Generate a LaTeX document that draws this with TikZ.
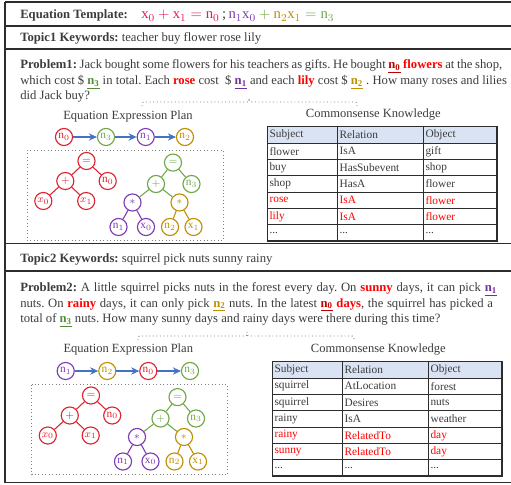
\documentclass[tikz,border=0pt]{standalone}
\usepackage{fontspec}
\setmainfont{Liberation Serif}
\usetikzlibrary{arrows.meta}
\frenchspacing
\definecolor{txt}{RGB}{60,60,60}
\definecolor{frame}{RGB}{45,45,45}
\definecolor{cred}{RGB}{222,35,50}
\definecolor{cgreen}{RGB}{112,168,72}
\definecolor{cpurple}{RGB}{125,60,180}
\definecolor{cgold}{RGB}{191,144,0}
\definecolor{cblue}{RGB}{68,114,196}
\definecolor{dred}{RGB}{192,0,0}
\definecolor{bred}{RGB}{255,0,0}
\definecolor{dgreen}{RGB}{84,140,53}
\definecolor{dpurple}{RGB}{112,48,160}
\definecolor{eqred}{RGB}{232,25,80}
\definecolor{hdr}{RGB}{218,227,243}
\newcommand\unum[2]{\textcolor{#1}{\underline{\textbf{n\textsubscript{#2}}}}}
\newcommand\kw[1]{\textcolor{bred}{\textbf{#1}}}
\newcommand\mn[1]{$\mathrm{n}_{#1}$}
\newcommand\mxu[1]{$\mathrm{x}_{#1}$}
\newcommand\mxi[1]{$x_{#1}$}
\newcommand\bodyfont{\fontsize{9.5pt}{11.6pt}\selectfont}
\newcommand\cellfont{\fontsize{8.5pt}{9pt}\selectfont}
\newcommand\nodefont{\fontsize{8.5pt}{9pt}\selectfont}
\newcommand\fitline[2]{\makebox[#1][s]{#2}}
\tikzset{
  frameline/.style={draw=frame, line width=1pt},
  textline/.style={anchor=base west, inner sep=0pt, text=txt, font=\bodyfont},
  titletext/.style={inner sep=0pt, text=txt, font=\fontsize{9.4pt}{11pt}\selectfont},
  cn/.style={circle, draw=#1, text=#1, fill=white, minimum size=12.8pt, inner sep=0pt, line width=0.85pt, font=\nodefont},
  tl/.style={draw=#1, line width=0.8pt},
  chainarrow/.style={draw=cblue, line width=1.3pt, -{Stealth[length=6pt,width=5.5pt]}},
  dotbox/.style={draw=gray, dotted, line width=0.6pt},
  bracepath/.style={draw=gray, dotted, line width=0.7pt},
  celltext/.style={anchor=west, inner sep=0pt, font=\cellfont},
  gridline/.style={draw=frame, line width=0.6pt},
}
% tree in panel-1 coordinates, prefix #1
\newcommand\plantree[1]{%
  \draw[dotbox] (27,150) rectangle (223,240.3);
  \node[cn=cred] (#1r) at (86.5,161) {$=$};
  \node[cn=cred] (#1rp) at (65.3,181) {$+$};
  \node[cn=cred] (#1rn) at (107.7,181) {\mn0};
  \node[cn=cred] (#1rxa) at (43.3,201) {\mxi0};
  \node[cn=cred] (#1rxb) at (86.2,201) {\mxi1};
  \draw[tl=cred] (#1r) -- (#1rp);
  \draw[tl=cred] (#1r) -- (#1rn);
  \draw[tl=cred] (#1rp) -- (#1rxa);
  \draw[tl=cred] (#1rp) -- (#1rxb);
  \node[cn=cgreen] (#1g) at (173,162.6) {$=$};
  \node[cn=cgreen] (#1gp) at (156,184) {$+$};
  \node[cn=cgreen] (#1gn) at (191.5,184) {\mn3};
  \node[cn=cpurple] (#1ps) at (132.5,202.5) {$\ast$};
  \node[cn=cgold] (#1os) at (179.5,202.5) {$\ast$};
  \node[cn=cpurple] (#1pn) at (118.5,227) {\mn1};
  \node[cn=cpurple] (#1px) at (146,227) {\mxu0};
  \node[cn=cgold] (#1on) at (170,227) {\mn2};
  \node[cn=cgold] (#1ox) at (193.5,227) {\mxu1};
  \draw[tl=cgreen] (#1g) -- (#1gp);
  \draw[tl=cgreen] (#1g) -- (#1gn);
  \draw[tl=cgreen] (#1gp) -- (#1ps);
  \draw[tl=cgreen] (#1gp) -- (#1os);
  \draw[tl=cpurple] (#1ps) -- (#1pn);
  \draw[tl=cpurple] (#1ps) -- (#1px);
  \draw[tl=cgold] (#1os) -- (#1on);
  \draw[tl=cgold] (#1os) -- (#1ox);
}
% table in panel-1 coordinates
\newcommand\kbgrid{%
  \fill[hdr] (267.5,126.7) rectangle (497,143.05);
  \foreach \k in {1,...,6} {\draw[gridline] (267.5,126.7+\k*16.35) -- (497,126.7+\k*16.35);}
  \draw[gridline] (337.5,126.7) -- (337.5,241.15);
  \draw[gridline] (423.5,126.7) -- (423.5,241.15);
  \draw[frame, line width=1.1pt] (267.5,126.7) rectangle (497,241.15);
}
\newcommand\kbrow[6]{% prefix, row, subj, rel, obj, color
  \node[celltext, text=#6] (#1s#2) at (269.3,126.7+#2*16.35+8.2) {#3};
  \node[celltext, text=#6] (#1r#2) at (339.3,126.7+#2*16.35+8.2) {#4};
  \node[celltext, text=#6] (#1o#2) at (425.3,126.7+#2*16.35+8.2) {#5};
}
\begin{document}
\begin{tikzpicture}[x=0.75pt,y=-0.75pt]
\useasboundingbox (0,0) rectangle (511,485);
\fill[white] (0,0) rectangle (511,485);
% frame
\draw[frameline] (5,2) -- (511,2);
\draw[frameline] (5,2) -- (5,482.5);
\draw[frameline] (5,26) -- (511,26);
\draw[frameline] (5,49) -- (511,49);
\draw[frameline] (5,243.5) -- (511,243.5);
\draw[frameline] (5,271) -- (511,271);
\draw[frameline] (5,482.5) -- (511,482.5);
% header
\node[textline] (eqlabel) at (20,19) {\textbf{Equation Template:}};
\node[anchor=base west, inner sep=0pt, font=\fontsize{11pt}{12pt}\selectfont] (eqmath) at (141,19)
  {$\color{eqred}\mathrm{x}_0+\mathrm{x}_1=\mathrm{n}_0$\,\textcolor{txt}{;}\,$\color{cpurple}\mathrm{n}_1\mathrm{x}_0\mathbin{\color{cgreen}+}{\color{cgold}\mathrm{n}_2\mathrm{x}_1}\mathrel{\color{cgreen}=}{\color{cgreen}\mathrm{n}_3}$};
\node[textline] (topic1) at (20,42) {\textbf{Topic1 Keywords:} teacher buy flower rose lily};
% problem 1
\node[textline] (p1a) at (20,69) {\fitline{361.5pt}{\textbf{Problem1:} Jack bought some flowers for his teachers as gifts. He bought \unum{dred}{0} \kw{flowers} at the shop,}};
\node[textline] (p1b) at (20,84.5) {\fitline{365pt}{which cost \$ \unum{dgreen}{3} in total. Each \kw{rose} cost \ \$ \unum{dpurple}{1} and each \kw{lily} cost \$ \unum{cgold}{2} . How many roses and lilies}};
\node[textline] (p1c) at (20,100) {did Jack buy?};
\draw[bracepath] (142,106) .. controls (142,102) .. (146,102) -- (245,102) .. controls (249,102) .. (249,98) .. controls (249,102) .. (253,102) -- (353,102) .. controls (357,102) .. (357,106);
% panel 1 plan
\node[titletext] (plan1) at (128,116.5) {Equation Expression Plan};
\node[cn=cred] (ac0) at (64,137) {\mn0};
\node[cn=cgreen] (ac1) at (106,137) {\mn3};
\node[cn=cpurple] (ac2) at (145.7,137) {\mn1};
\node[cn=cgold] (ac3) at (185,137) {\mn2};
\draw[chainarrow] (ac0) -- (ac1);
\draw[chainarrow] (ac1) -- (ac2);
\draw[chainarrow] (ac2) -- (ac3);
\plantree{a}
% table 1
\node[titletext] (kb1) at (373.3,115) {Commonsense Knowledge};
\kbgrid
\kbrow{a}{0}{Subject}{Relation}{Object}{txt}
\kbrow{a}{1}{flower}{IsA}{gift}{txt}
\kbrow{a}{2}{buy}{HasSubevent}{shop}{txt}
\kbrow{a}{3}{shop}{HasA}{flower}{txt}
\kbrow{a}{4}{rose}{IsA}{flower}{bred}
\kbrow{a}{5}{lily}{IsA}{flower}{bred}
\kbrow{a}{6}{...}{...}{...}{txt}
% topic 2
\node[textline] (topic2) at (20,262) {\textbf{Topic2 Keywords:} squirrel pick nuts sunny rainy};
\node[textline] (p2a) at (20,291.5) {\fitline{357.5pt}{\textbf{Problem2:} A little squirrel picks nuts in the forest every day. On \kw{sunny} days, it can pick \unum{dpurple}{1}}};
\node[textline] (p2b) at (20,307) {\fitline{354.5pt}{nuts. On \kw{rainy} days, it can only pick \unum{cgold}{2} nuts. In the latest \unum{dred}{0} \kw{days}, the squirrel has picked a}};
\node[textline] (p2c) at (20,322.5) {total of \unum{dgreen}{3} nuts. How many sunny days and rainy days were there during this time?};
\draw[bracepath] (138,340) .. controls (138,336) .. (142,336) -- (243,336) .. controls (247,336) .. (247,332) .. controls (247,336) .. (251,336) -- (350,336) .. controls (354,336) .. (354,340);
% panel 2 plan
\node[titletext] (plan2) at (128.3,349.5) {Equation Expression Plan};
\node[cn=cpurple] (bc0) at (65.7,371) {\mn1};
\node[cn=cgold] (bc1) at (107.3,371) {\mn2};
\node[cn=cred] (bc2) at (148.3,371) {\mn0};
\node[cn=cgreen] (bc3) at (190,371) {\mn3};
\draw[chainarrow] (bc0) -- (bc1);
\draw[chainarrow] (bc1) -- (bc2);
\draw[chainarrow] (bc2) -- (bc3);
\begin{scope}[shift={(4.5,234.5)}]
\plantree{b}
\end{scope}
% table 2
\node[titletext] (kb2) at (378.3,350) {Commonsense Knowledge};
\begin{scope}[shift={(5,235)}]
\kbgrid
\kbrow{b}{0}{Subject}{Relation}{Object}{txt}
\kbrow{b}{1}{squirrel}{AtLocation}{forest}{txt}
\kbrow{b}{2}{squirrel}{Desires}{nuts}{txt}
\kbrow{b}{3}{rainy}{IsA}{weather}{txt}
\kbrow{b}{4}{rainy}{RelatedTo}{day}{bred}
\kbrow{b}{5}{sunny}{RelatedTo}{day}{bred}
\kbrow{b}{6}{...}{...}{...}{txt}
\end{scope}
\end{tikzpicture}
\end{document}
